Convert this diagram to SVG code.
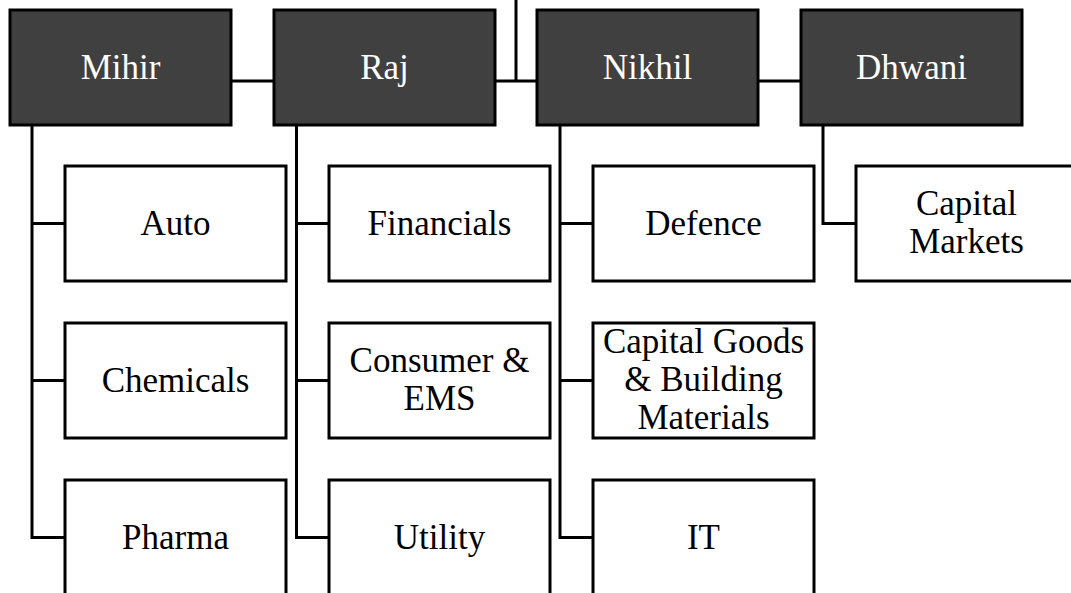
<svg xmlns="http://www.w3.org/2000/svg" width="1071" height="593" viewBox="0 0 1071 593">
<style>
.hd rect{fill:#404040;stroke:#000;stroke-width:3}
.ch rect{fill:#fff;stroke:#000;stroke-width:3}
.hd text{fill:#fff;font-family:"Liberation Serif","Times New Roman",serif;font-size:35px;text-anchor:middle}
.ch text{fill:#000;font-family:"Liberation Serif","Times New Roman",serif;font-size:35px;text-anchor:middle}
#connectors path{fill:none;stroke:#000;stroke-width:3;stroke-linejoin:miter}
</style>
<rect width="1071" height="593" fill="#fff"/>
<g id="connectors">
<path d="M516 0 V81"/>
<path d="M231 81 H274"/>
<path d="M495 81 H537"/>
<path d="M758 81 H801"/>
<path d="M32 125 V537.5 H65 M32 223.5 H65 M32 380.5 H65"/>
<path d="M296.5 125 V537.5 H329 M296.5 223.5 H329 M296.5 380.5 H329"/>
<path d="M560 125 V537.5 H593 M560 223.5 H593 M560 380.5 H593"/>
<path d="M823 125 V223.5 H856"/>
</g>
<g id="mihir" class="hd"><rect x="10" y="10" width="221" height="115"/><text x="120.5" y="79">Mihir</text></g>
<g id="raj" class="hd"><rect x="274" y="10" width="221" height="115"/><text x="384.5" y="79">Raj</text></g>
<g id="nikhil" class="hd"><rect x="537" y="10" width="221" height="115"/><text x="647.5" y="79">Nikhil</text></g>
<g id="dhwani" class="hd"><rect x="801" y="10" width="221" height="115"/><text x="911.5" y="79">Dhwani</text></g>
<g id="auto" class="ch"><rect x="65" y="166" width="221" height="115"/><text x="175.5" y="235">Auto</text></g>
<g id="chemicals" class="ch"><rect x="65" y="323" width="221" height="115"/><text x="175.5" y="392">Chemicals</text></g>
<g id="pharma" class="ch"><rect x="65" y="480" width="221" height="115"/><text x="175.5" y="549">Pharma</text></g>
<g id="financials" class="ch"><rect x="329" y="166" width="221" height="115"/><text x="439.5" y="235">Financials</text></g>
<g id="consumer" class="ch"><rect x="329" y="323" width="221" height="115"/><text x="439.5" y="372">Consumer &amp;</text><text x="439.5" y="410">EMS</text></g>
<g id="utility" class="ch"><rect x="329" y="480" width="221" height="115"/><text x="439.5" y="549">Utility</text></g>
<g id="defence" class="ch"><rect x="593" y="166" width="221" height="115"/><text x="703.5" y="235">Defence</text></g>
<g id="capgoods" class="ch"><rect x="593" y="323" width="221" height="115"/><text x="703.5" y="353">Capital Goods</text><text x="703.5" y="391">&amp; Building</text><text x="703.5" y="429">Materials</text></g>
<g id="it" class="ch"><rect x="593" y="480" width="221" height="115"/><text x="703.5" y="549">IT</text></g>
<g id="capmarkets" class="ch"><rect x="856" y="166" width="221" height="115"/><text x="966.5" y="215">Capital</text><text x="966.5" y="253">Markets</text></g>
</svg>
